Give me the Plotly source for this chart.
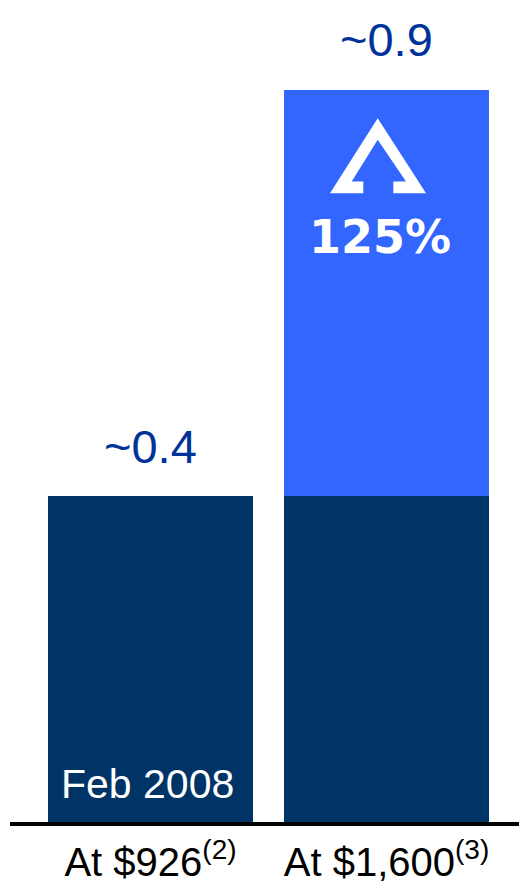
import plotly.graph_objects as go

# Data
categories = ["At $926<sup>(2)</sup>", "At $1,600<sup>(3)</sup>"]
base_values = [0.4, 0.4]          # Feb 2008 level
increase_values = [0.0, 0.5]      # uplift at the higher price
total_labels = ["~0.4", "~0.9"]
change_label = "125%"
period_label = "Feb 2008"

NAVY = "#003366"
BRIGHT = "#3366FF"
LABEL_BLUE = "#003399"

W, H = 519, 885
M_L, M_R, M_T, M_B = 10, 0, 0, 63
plot_h = H - M_T - M_B
Y_MAX = 1.01
px_per_unit = plot_h / Y_MAX
x_pos = [0, 1]
totals = [b + i for b, i in zip(base_values, increase_values)]

fig = go.Figure()
fig.add_trace(go.Bar(x=x_pos, y=base_values, marker_color=NAVY, width=0.869,
                     marker_line_width=0, hoverinfo="skip"))
fig.add_trace(go.Bar(x=x_pos, y=increase_values, marker_color=BRIGHT, width=0.869,
                     marker_line_width=0, hoverinfo="skip"))

# Value labels above each bar
for xv, tv, lab in zip(x_pos, totals, total_labels):
    fig.add_annotation(x=xv, y=tv, text=lab, showarrow=False, xref="x", yref="y",
                       yanchor="middle", yshift=50,
                       font=dict(family="Liberation Sans", size=47, color=LABEL_BLUE))

# Period label inside the first bar
fig.add_annotation(x=x_pos[0] - 0.012, y=0, text=period_label, showarrow=False,
                   xref="x", yref="y", yanchor="middle", yshift=38,
                   font=dict(family="Liberation Sans", size=41, color="white"))

# Upward arrow outline inside the uplift segment (pixel offsets from bar top / x-axis scale)
x_scale = 236.0
def ax_x(px):
    return (px - 386.5) / x_scale + x_pos[1]
def ax_y(dy):
    return totals[1] - dy / px_per_unit

arrow_pts = [(377.7, 28.7), (426, 103.7), (393.3, 103.7), (393.3, 92), (406, 92),
             (377.7, 50.3), (351.7, 92), (363.3, 92), (363.3, 103.7), (330, 103.7)]
path = "M " + " L ".join(f"{ax_x(px):.4f},{ax_y(dy):.4f}" for px, dy in arrow_pts) + " Z"
fig.add_shape(type="path", path=path, xref="x", yref="y", fillcolor="white",
              line=dict(width=0), layer="above")

fig.add_annotation(x=ax_x(379.5), y=totals[1], text=f"<b>{change_label}</b>",
                   showarrow=False, xref="x", yref="y", yanchor="middle", yshift=-147,
                   font=dict(family="DejaVu Sans", size=46, color="white"))

fig.update_layout(
    width=W, height=H, barmode="stack", bargap=0, showlegend=False,
    margin=dict(l=M_L, r=M_R, t=M_T, b=M_B, pad=0, autoexpand=False),
    plot_bgcolor="white", paper_bgcolor="white",
    xaxis=dict(range=[(10 - 150.5) / x_scale, (519 - 150.5) / x_scale],
               tickvals=x_pos, ticktext=categories, showgrid=False, zeroline=False,
               showline=True, linewidth=4, linecolor="black", ticks="",
               ticklabelstandoff=2, automargin=False,
               tickfont=dict(family="Liberation Sans", size=40, color="black")),
    yaxis=dict(range=[0, Y_MAX], visible=False, showgrid=False, zeroline=False,
               automargin=False),
)

fig.write_html("out.html")
